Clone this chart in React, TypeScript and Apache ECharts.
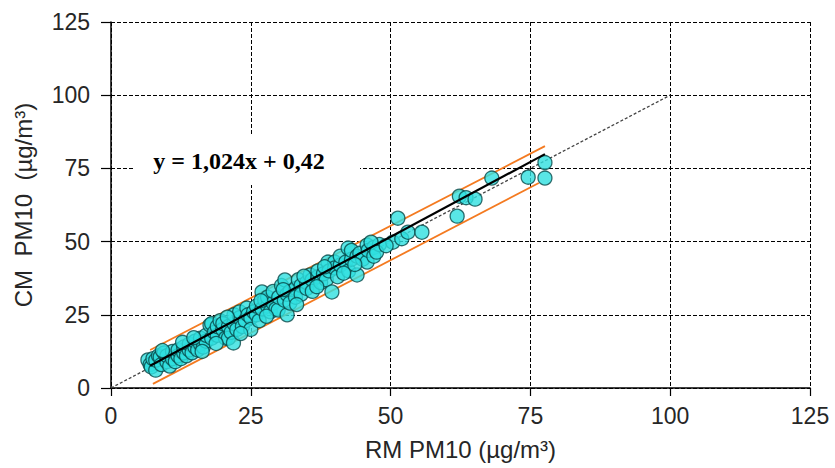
import React, { useEffect, useRef } from "react";
import * as echarts from "echarts";

const xTicks = [0, 25, 50, 75, 100, 125];
const yTicks = [0, 25, 50, 75, 100, 125];

const points: [number, number][] = [
  [6.6, 9.6], [7, 8], [7.2, 7.2], [7.5, 10], [8, 6.1], [8, 9.5], [8.5, 11], [8.8, 10.6], [9, 8], [9.5, 12],
  [10, 9], [10, 11], [10.5, 7.5], [11, 10], [11, 12.5], [11.5, 9], [12, 11], [12, 13], [12.5, 10], [13, 12],
  [13, 14], [13.5, 11], [14, 13], [14, 15], [14.5, 12], [15, 14], [15, 16], [15.5, 13], [16, 15], [16, 17],
  [16.5, 14], [17, 16], [17, 18], [17.7, 21.5], [18, 17], [18, 22], [18.5, 19], [19, 18], [19, 21], [19.5, 23],
  [20, 20], [20, 22], [20.5, 17], [21, 21], [21, 17], [21.5, 19], [21.9, 15.4], [22, 22], [22, 25], [22.5, 20],
  [23, 24], [23, 26], [23.5, 21], [24, 23], [24.3, 27.3], [24.5, 25], [25, 24], [25, 20], [25.5, 26], [26, 25],
  [26, 28], [26.5, 23], [27, 27], [27, 32.8], [27.5, 30], [28, 28], [28, 31], [28.5, 26], [29, 29], [29, 33],
  [29.5, 27], [29.9, 26.6], [30, 31], [30.5, 35], [31, 30], [31.1, 36.9], [31.5, 25], [31.5, 32], [32, 33], [32, 29],
  [33, 34], [33, 31], [33.5, 37], [34, 35], [34, 32], [35, 36], [35, 34], [35.6, 38.6], [36, 37], [36, 33],
  [37, 38], [37, 40], [37.5, 36], [38, 39], [38.8, 43], [38.5, 37], [39, 40], [39.5, 32.8], [40, 43], [40, 41],
  [40.5, 38], [41, 42], [41, 45], [42, 43], [42.4, 47.8], [42.5, 40], [43, 44], [43, 47], [44, 45], [44, 38.6],
  [44.5, 46], [45, 44], [45.8, 48.8], [45.8, 43], [46, 47], [47, 48], [47, 45], [48, 49], [50.4, 49.8], [51.3, 58],
  [52, 51], [53.1, 53.2], [55.6, 53.2], [61.9, 58.7], [62.3, 65.5], [63.5, 65], [65.1, 64.5], [68.1, 71.7], [74.6, 72], [77.6, 71.7],
  [77.6, 77], [9.2, 12.8], [12.8, 15.6], [14.8, 17.2], [16.3, 12.5], [18.8, 15.2], [20.8, 24.2], [23.2, 18.6], [26.8, 29.8], [27.8, 24.5],
  [30.8, 33.6], [33.2, 28.5], [34.5, 38.2], [36.8, 34.6], [38.2, 41.4], [41.6, 39.2], [43.6, 42.2], [46.5, 49.8], [47.5, 46.4], [49.2, 48.6],
];

const regSlope = 1.024;
const regIntercept = 0.42;
const regRange = [7, 77.6];
const identityLine: [number, number][] = [[0, 0], [100, 100]];
const upperBand: [number, number][] = [[7, 13], [77.6, 82.6]];
const lowerBand: [number, number][] = [[7.5, 1.4], [76.5, 70]];
const equationText = "y = 1,024x + 0,42";

export default function App() {
  const ref = useRef<HTMLDivElement>(null);
  useEffect(() => {
    document.body.style.margin = "0";
    const chart = echarts.init(ref.current!, undefined, { renderer: "svg" });
    const regLine = regRange.map((x) => [x, regSlope * x + regIntercept]);
    const labelStyle = { color: "#262626", fontSize: 23, fontFamily: "Liberation Sans" };
    chart.setOption({
      animation: false,
      backgroundColor: "#fff",
      grid: { left: 111, right: 25, top: 22, bottom: 80 },
      xAxis: {
        type: "value",
        min: 0,
        max: 125,
        interval: 25,
        name: "RM PM10 (µg/m³)",
        nameLocation: "middle",
        nameGap: 49,
        nameTextStyle: { ...labelStyle, fontSize: 24 },
        axisLine: { show: true, onZero: false, lineStyle: { color: "#000", width: 1.5 } },
        axisTick: { show: true, inside: false, length: 8, lineStyle: { color: "#000", width: 1.2 } },
        axisLabel: { ...labelStyle, margin: 16, formatter: (v: number) => (xTicks.includes(v) ? String(v) : "") },
        splitLine: { show: true, lineStyle: { color: "#000", type: [4, 2], width: 1 } },
      },
      yAxis: {
        type: "value",
        min: 0,
        max: 125,
        interval: 25,
        name: "CM  PM10  (µg/m³)",
        nameLocation: "middle",
        nameGap: 76,
        nameTextStyle: { ...labelStyle, fontSize: 24 },
        axisLine: { show: true, onZero: false, lineStyle: { color: "#000", width: 1.5 } },
        axisTick: { show: true, inside: false, length: 10, lineStyle: { color: "#000", width: 1.2 } },
        axisLabel: { ...labelStyle, margin: 21, formatter: (v: number) => (yTicks.includes(v) ? String(v) : "") },
        splitLine: { show: true, lineStyle: { color: "#000", type: [4, 2], width: 1 } },
      },
      series: [
        {
          type: "line",
          data: identityLine,
          symbol: "none",
          lineStyle: { color: "#444", width: 1.3, type: [3, 2] },
          z: 1,
        },
        {
          type: "line",
          data: upperBand,
          symbol: "none",
          lineStyle: { color: "#f47a20", width: 1.8 },
          z: 2,
        },
        {
          type: "line",
          data: lowerBand,
          symbol: "none",
          lineStyle: { color: "#f47a20", width: 1.8 },
          z: 2,
        },
        {
          type: "scatter",
          data: points,
          symbol: "circle",
          symbolSize: 14,
          itemStyle: { color: "#2fe0e0", borderColor: "#084848", borderWidth: 1.3 },
          z: 3,
        },
        {
          type: "line",
          data: regLine,
          symbol: "none",
          lineStyle: { color: "#000", width: 2.2 },
          z: 4,
        },
      ],
      graphic: [
        {
          type: "rect",
          shape: { x: 133, y: 136, width: 227, height: 49 },
          style: { fill: "#fff" },
          z: 100,
        },
        {
          type: "text",
          x: 239,
          y: 161,
          style: {
            text: equationText,
            fill: "#000",
            font: "bold 24px 'Liberation Serif'",
            align: "center",
            verticalAlign: "middle",
          },
          z: 101,
        },
      ],
    });
    return () => chart.dispose();
  }, []);
  return <div ref={ref} style={{ width: 835, height: 468 }} />;
}
